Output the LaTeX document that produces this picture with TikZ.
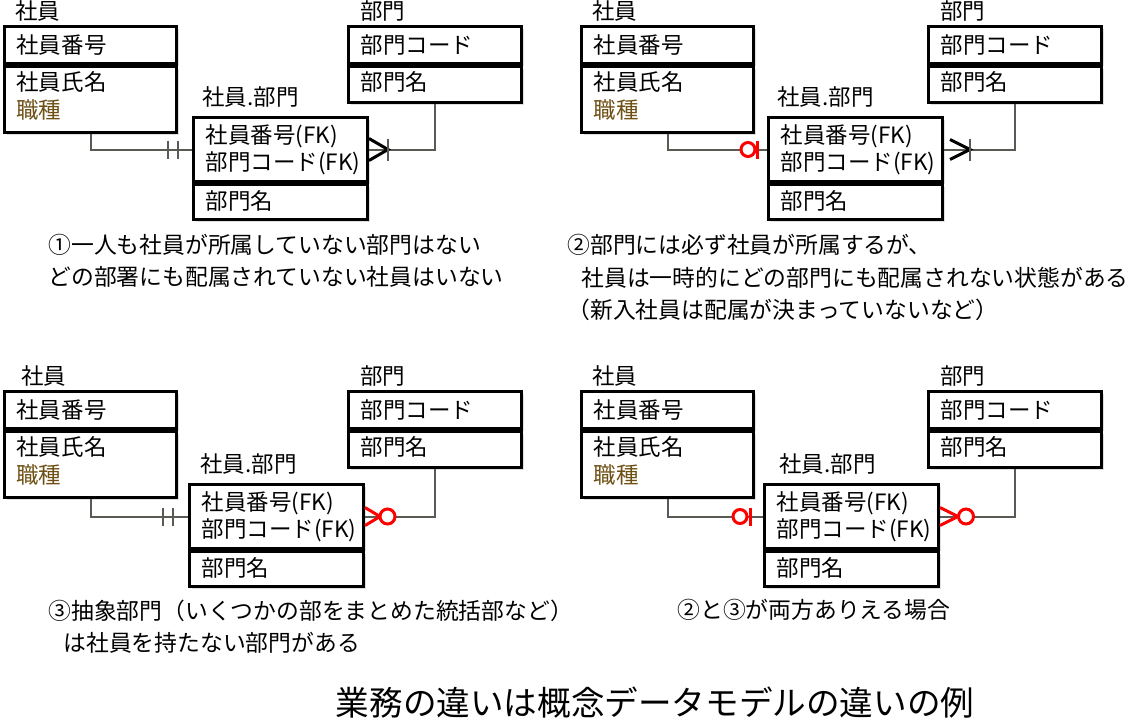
\documentclass[tikz,border=0pt]{standalone}
\usepackage{fontspec}
\setmainfont{Noto Sans CJK JP}
\usetikzlibrary{positioning,calc,shadows}
\definecolor{linegray}{RGB}{90,90,85}
\definecolor{attrbrown}{RGB}{110,80,20}
\definecolor{markred}{RGB}{255,0,0}
\newcommand\entfont{\fontsize{11.25pt}{14pt}\selectfont}
\newcommand\capfont{\fontsize{11.4pt}{16.25pt}\selectfont}

\tikzset{
  ent/.style={draw,line width=1.5pt,fill=white,anchor=north west,align=left,
    inner xsep=6pt,inner ysep=0pt,font=\entfont,
    drop shadow={shadow xshift=1.2pt,shadow yshift=-1.2pt,opacity=.25}},
  empbox/.style={ent,text width=74pt},
  depbox/.style={ent,text width=74.5pt},
  lnkbox/.style={ent,text width=75pt},
  keypart/.style={text height=13.5pt,text depth=5pt},
  enttitle/.style={font=\entfont,inner sep=0pt},
  conn/.style={linegray,line width=1pt},
  crow/.style={line width=1.5pt,black},
  optmark/.style={line width=1.5pt,markred},
  caption/.style={font=\capfont,align=left,anchor=west,inner sep=0pt}
}

\begin{document}
\begin{tikzpicture}[x=0.5pt,y=-0.5pt]
\useasboundingbox (0,0) rectangle (1134,725);

% ① 左上
\node[empbox,keypart] (emp1k) at (3,25) {社員番号};
\node[empbox,text height=11.75pt,text depth=21.25pt] (emp1b) at (emp1k.south west) {社員氏名\\\textcolor{attrbrown}{職種}};
\node[enttitle,above right=1.5pt and 6pt of emp1k.north west] (emp1t) {社員};
\node[depbox,keypart] (dep1k) at (347,25) {部門コード};
\node[depbox,text height=11.75pt,text depth=6.25pt] (dep1b) at (dep1k.south west) {部門名};
\node[enttitle,above right=1.5pt and 6.5pt of dep1k.north west] (dep1t) {部門};
\node[lnkbox,text height=12.75pt,text depth=19.25pt] (lnk1k) at (192,116) {社員番号(FK)\\[-0.5pt]部門コード(FK)};
\node[lnkbox,text height=12.25pt,text depth=5.25pt] (lnk1b) at (lnk1k.south west) {部門名};
\node[enttitle,above right=4pt and 5pt of lnk1k.north west] (lnk1t) {社員.部門};
\draw[conn] (emp1b.south) |- (lnk1k.west);
\draw[conn] (lnk1k.east) -| (dep1b.south);
\draw[conn] ([xshift=-12pt,yshift=4.5pt]lnk1k.west) -- ++(0,-9pt);
\draw[conn] ([xshift=-7pt,yshift=4.5pt]lnk1k.west) -- ++(0,-9pt);
\draw[crow] ([yshift=5.5pt]lnk1k.east) -- ([xshift=9.5pt]lnk1k.east) -- ([yshift=-5.5pt]lnk1k.east);
\draw[conn] ([xshift=9.5pt,yshift=5.5pt]lnk1k.east) -- ++(0,-11pt);
\node[caption] (cap1) at (48,261) {①一人も社員が所属していない部門はない\\どの部署にも配属されていない社員はいない};

% ② 右上
\node[empbox,keypart] (emp2k) at (580,25) {社員番号};
\node[empbox,text height=11.75pt,text depth=21.25pt] (emp2b) at (emp2k.south west) {社員氏名\\\textcolor{attrbrown}{職種}};
\node[enttitle,above right=1.5pt and 6pt of emp2k.north west] (emp2t) {社員};
\node[depbox,keypart] (dep2k) at (927,25) {部門コード};
\node[depbox,text height=11.75pt,text depth=6.25pt] (dep2b) at (dep2k.south west) {部門名};
\node[enttitle,above right=1.5pt and 6.5pt of dep2k.north west] (dep2t) {部門};
\node[lnkbox,text height=12.75pt,text depth=19.25pt] (lnk2k) at (767,116) {社員番号(FK)\\[-0.5pt]部門コード(FK)};
\node[lnkbox,text height=12.25pt,text depth=5.25pt] (lnk2b) at (lnk2k.south west) {部門名};
\node[enttitle,above right=4pt and 5pt of lnk2k.north west] (lnk2t) {社員.部門};
\draw[conn] (emp2b.south) |- (lnk2k.west);
\draw[conn] (lnk2k.east) -| (dep2b.south);
\draw[optmark] ([xshift=-5pt,yshift=4.5pt]lnk2k.west) -- ++(0,-9pt);
\draw[optmark,fill=white] ([xshift=-9.5pt]lnk2k.west) circle[radius=3.5pt];
\draw[crow] ([xshift=3pt,yshift=5pt]lnk2k.east) -- ([xshift=13pt]lnk2k.east) -- ([xshift=3pt,yshift=-5pt]lnk2k.east);
\draw[conn] ([xshift=13pt,yshift=5.5pt]lnk2k.east) -- ++(0,-11pt);
\node[caption] (cap2) at (567,277.5) {②部門には必ず社員が所属するが、\\\hspace*{7pt}社員は一時的にどの部門にも配属されない状態がある\\（新入社員は配属が決まっていないなど）};

% ③ 左下
\node[empbox,keypart] (emp3k) at (3,390) {社員番号};
\node[empbox,text height=11.75pt,text depth=21.25pt] (emp3b) at (emp3k.south west) {社員氏名\\\textcolor{attrbrown}{職種}};
\node[enttitle,above right=1.5pt and 9pt of emp3k.north west] (emp3t) {社員};
\node[depbox,keypart] (dep3k) at (347,390) {部門コード};
\node[depbox,text height=11.75pt,text depth=6.25pt] (dep3b) at (dep3k.south west) {部門名};
\node[enttitle,above right=1.5pt and 6.5pt of dep3k.north west] (dep3t) {部門};
\node[lnkbox,text height=12.75pt,text depth=19.25pt] (lnk3k) at (188,483) {社員番号(FK)\\[-0.5pt]部門コード(FK)};
\node[lnkbox,text height=12.25pt,text depth=5.25pt] (lnk3b) at (lnk3k.south west) {部門名};
\node[enttitle,above right=4pt and 6pt of lnk3k.north west] (lnk3t) {社員.部門};
\draw[conn] (emp3b.south) |- (lnk3k.west);
\draw[conn] (lnk3k.east) -| (dep3b.south);
\draw[conn] ([xshift=-12.5pt,yshift=4.5pt]lnk3k.west) -- ++(0,-9pt);
\draw[conn] ([xshift=-7.5pt,yshift=4.5pt]lnk3k.west) -- ++(0,-9pt);
\draw[optmark] ([yshift=4.5pt]lnk3k.east) -- ([xshift=7.5pt]lnk3k.east) -- ([yshift=-4.5pt]lnk3k.east);
\draw[optmark,fill=white] ([xshift=11.25pt]lnk3k.east) circle[radius=3.75pt];
\node[caption] (cap3) at (48,626.5) {③抽象部門（いくつかの部をまとめた統括部など）\\\hspace*{7.5pt}は社員を持たない部門がある};

% ②と③ 右下
\node[empbox,keypart] (emp4k) at (580,390) {社員番号};
\node[empbox,text height=11.75pt,text depth=21.25pt] (emp4b) at (emp4k.south west) {社員氏名\\\textcolor{attrbrown}{職種}};
\node[enttitle,above right=1.5pt and 6pt of emp4k.north west] (emp4t) {社員};
\node[depbox,keypart] (dep4k) at (927,390) {部門コード};
\node[depbox,text height=11.75pt,text depth=6.25pt] (dep4b) at (dep4k.south west) {部門名};
\node[enttitle,above right=1.5pt and 6.5pt of dep4k.north west] (dep4t) {部門};
\node[lnkbox,text height=12.75pt,text depth=19.25pt] (lnk4k) at (763,483) {社員番号(FK)\\[-0.5pt]部門コード(FK)};
\node[lnkbox,text height=12.25pt,text depth=5.25pt] (lnk4b) at (lnk4k.south west) {部門名};
\node[enttitle,above right=4pt and 8pt of lnk4k.north west] (lnk4t) {社員.部門};
\draw[conn] (emp4b.south) |- (lnk4k.west);
\draw[conn] (lnk4k.east) -| (dep4b.south);
\draw[optmark] ([xshift=-6.5pt,yshift=4.5pt]lnk4k.west) -- ++(0,-9pt);
\draw[optmark,fill=white] ([xshift=-11.5pt]lnk4k.west) circle[radius=3.5pt];
\draw[optmark] ([yshift=4.5pt]lnk4k.east) -- ([xshift=9pt]lnk4k.east) -- ([yshift=-4.5pt]lnk4k.east);
\draw[optmark,fill=white] ([xshift=13pt]lnk4k.east) circle[radius=3.75pt];
\node[caption] (cap4) at (677,610) {②と③が両方ありえる場合};

\node[font=\fontsize{16.8pt}{20pt}\selectfont,inner sep=0pt] (title) at (655,703) {業務の違いは概念データモデルの違いの例};
\end{tikzpicture}
\end{document}
